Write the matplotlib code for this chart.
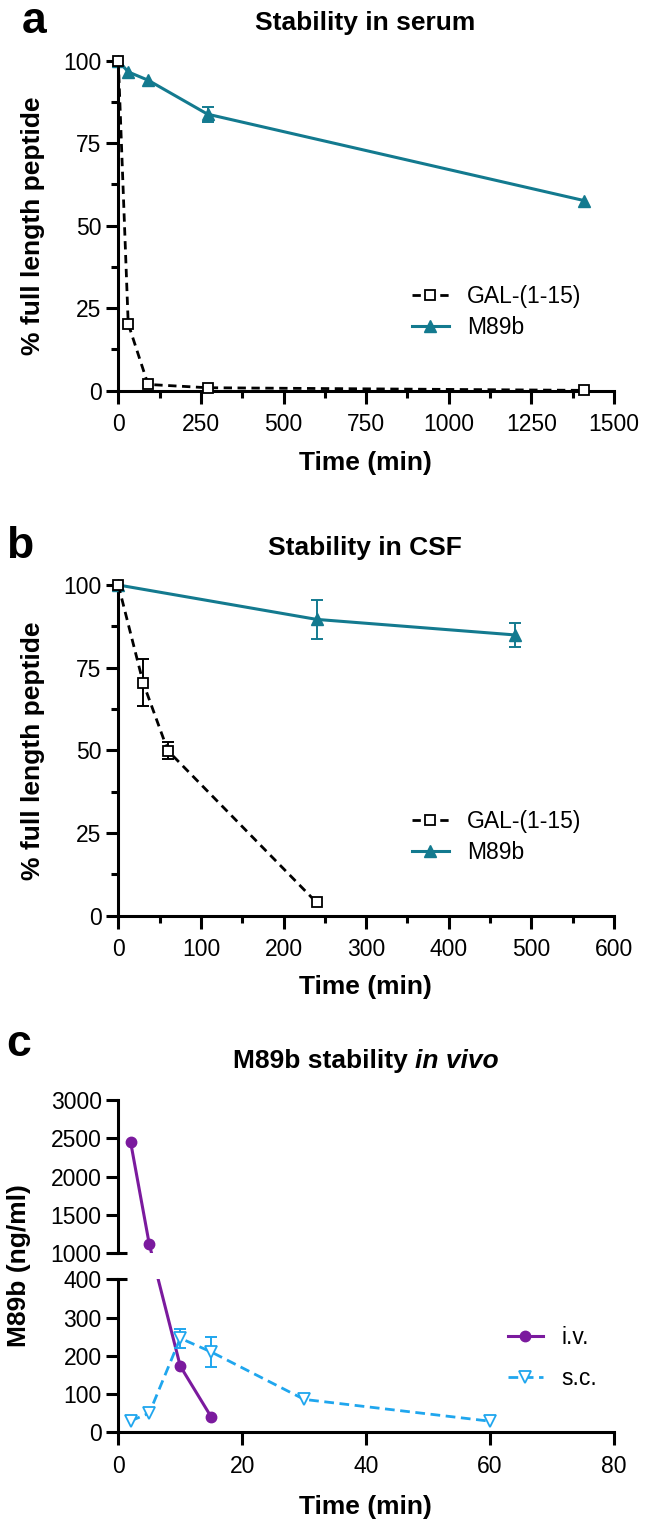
import matplotlib
matplotlib.use("Agg")
import matplotlib.pyplot as plt
from matplotlib.ticker import MultipleLocator

plt.rcParams['font.family'] = ['Liberation Sans', 'DejaVu Sans']

#figure size in pixels
W = 645
H = 1525

#panel a, stability in serum
serum_t_gal = [0, 30, 90, 270, 1410]
serum_gal = [100, 20.3, 1.9, 0.9, 0.1]
serum_t_m89 = [0, 30, 90, 270, 1410]
serum_m89 = [100, 96.6, 94.1, 83.8, 57.6]
serum_m89_err = [0, 0, 0, 2.3, 0]

#panel b, stability in CSF
csf_t_gal = [0, 30, 60, 240]
csf_gal = [100, 70.5, 49.9, 4.0]
csf_gal_err = [0, 7.0, 2.5, 0]
csf_t_m89 = [0, 240, 480]
csf_m89 = [100, 89.6, 84.9]
csf_m89_err = [0, 5.8, 3.7]

#panel c, M89b in vivo
iv_t = [2, 5, 10, 15]
iv = [2445, 1115, 173, 40]
sc_t = [2, 5, 10, 15, 30, 60]
sc = [30, 50, 246, 210, 86, 29]
sc_err = [0, 0, 25, 40, 0, 0]

teal = '#137a8f'
purple = '#7b1a9e'
skyblue = '#1fa6ee'
LW = 2.2


def box(left, top, right, bottom):
    #pixel box -> figure fraction
    return [left / W, 1 - bottom / H, (right - left) / W, (bottom - top) / H]


def style(ax):
    for s in ['top', 'right']:
        ax.spines[s].set_visible(False)
    for s in ['left', 'bottom']:
        ax.spines[s].set_linewidth(LW)
    ax.tick_params(which='major', length=9, width=LW, labelsize=16.5, pad=3)
    ax.tick_params(which='minor', length=5, width=LW)
    ax.tick_params(axis='x', which='major', pad=7)


def errs(t, y, e):
    #keep only points that have an error bar
    keep = [i for i in range(len(e)) if e[i] > 0]
    return [t[i] for i in keep], [y[i] for i in keep], [e[i] for i in keep]


def legend(ax, x, y, spacing, hl=1.6, handles=None, labels=None):
    if handles is None:
        handles, labels = ax.get_legend_handles_labels()
    ax.legend(handles, labels, loc='center left', bbox_to_anchor=(x / W, 1 - y / H),
              bbox_transform=fig.transFigure, frameon=False, fontsize=16.5, borderpad=0,
              borderaxespad=0, handlelength=hl, handletextpad=0.8, labelspacing=spacing)


fig = plt.figure(figsize=(W / 100, H / 100), dpi=100)

gal_style = dict(color='black', lw=2, dashes=(3, 2), marker='s', ms=7.5,
                 mfc='white', mec='black', mew=1.3, clip_on=False, zorder=4)
m89_style = dict(color=teal, lw=LW, marker='^', ms=9, clip_on=False, zorder=3)
bold = dict(fontsize=19, fontweight='bold')

# ---- panel a ----
ax = fig.add_axes(box(118.3, 60.7, 614, 390.7))
style(ax)
ex, ey, ee = errs(serum_t_m89, serum_m89, serum_m89_err)
ax.errorbar(ex, ey, yerr=ee, fmt='none', ecolor=teal, elinewidth=1.4, capsize=4, capthick=1.4, zorder=2)
ax.plot(serum_t_m89, serum_m89, label='M89b', **m89_style)
ax.plot(serum_t_gal, serum_gal, label='GAL-(1-15)', **gal_style)
ax.set_xlim(0, 1500)
ax.set_ylim(0, 100)
ax.xaxis.set_major_locator(MultipleLocator(250))
ax.xaxis.set_minor_locator(MultipleLocator(125))
ax.yaxis.set_major_locator(MultipleLocator(25))
ax.yaxis.set_minor_locator(MultipleLocator(12.5))
h, l = ax.get_legend_handles_labels()
legend(ax, 412, 312, 0.35, handles=h[::-1], labels=l[::-1])
fig.text(365 / W, 1 - 30 / H, 'Stability in serum', ha='center', va='baseline', **bold)
fig.text(365 / W, 1 - 470 / H, 'Time (min)', ha='center', va='baseline', **bold)
fig.text(33 / W, 1 - 225.7 / H, '% full length peptide', ha='center', va='center', rotation=90, **bold)
fig.text(22 / W, 1 - 33 / H, 'a', ha='left', va='baseline', fontsize=32, fontweight='bold')

# ---- panel b ----
ax = fig.add_axes(box(118.3, 585, 614, 915.7))
style(ax)
ex, ey, ee = errs(csf_t_m89, csf_m89, csf_m89_err)
ax.errorbar(ex, ey, yerr=ee, fmt='none', ecolor=teal, elinewidth=1.4, capsize=4, capthick=1.4, zorder=2)
ex, ey, ee = errs(csf_t_gal, csf_gal, csf_gal_err)
ax.errorbar(ex, ey, yerr=ee, fmt='none', ecolor='black', elinewidth=1.4, capsize=4, capthick=1.4, zorder=2)
ax.plot(csf_t_m89, csf_m89, label='M89b', **m89_style)
ax.plot(csf_t_gal, csf_gal, label='GAL-(1-15)', **gal_style)
ax.set_xlim(0, 600)
ax.set_ylim(0, 100)
ax.xaxis.set_major_locator(MultipleLocator(100))
ax.xaxis.set_minor_locator(MultipleLocator(50))
ax.yaxis.set_major_locator(MultipleLocator(25))
ax.yaxis.set_minor_locator(MultipleLocator(12.5))
h, l = ax.get_legend_handles_labels()
legend(ax, 412, 837, 0.35, handles=h[::-1], labels=l[::-1])
fig.text(365 / W, 1 - 555 / H, 'Stability in CSF', ha='center', va='baseline', **bold)
fig.text(365 / W, 1 - 994.5 / H, 'Time (min)', ha='center', va='baseline', **bold)
fig.text(33 / W, 1 - 750.3 / H, '% full length peptide', ha='center', va='center', rotation=90, **bold)
fig.text(6 / W, 1 - 558 / H, 'b', ha='left', va='baseline', fontsize=32, fontweight='bold')

# ---- panel c, broken y axis ----
top = fig.add_axes(box(118.3, 1100, 614, 1253))
bot = fig.add_axes(box(118.3, 1279.3, 614, 1432.3))
for a in (top, bot):
    style(a)
    a.set_xlim(0, 80)
top.set_ylim(1000, 3000)
bot.set_ylim(0, 400)

#i.v. points go in whichever segment holds them
iv_hi = [(t, v) for t, v in zip(iv_t, iv) if v >= 1000]
iv_lo = [(t, v) for t, v in zip(iv_t, iv) if v <= 400]
iv_kw = dict(color=purple, lw=LW, marker='o', ms=7.5, zorder=3)
top.plot([p[0] for p in iv_hi], [p[1] for p in iv_hi], **iv_kw)
bot.plot([p[0] for p in iv_lo], [p[1] for p in iv_lo], label='i.v.', **iv_kw)
#a segment across the break is straight on screen, cut by the gap
for i in range(len(iv) - 1):
    if iv[i] >= 1000 and iv[i + 1] <= 400:
        p1 = top.transData.transform((iv_t[i], iv[i]))
        p2 = bot.transData.transform((iv_t[i + 1], iv[i + 1]))
        for a in (top, bot):
            q = a.transData.inverted().transform([p1, p2])
            a.plot(q[:, 0], q[:, 1], color=purple, lw=LW, zorder=2)
#keep limits after the extra lines
top.set_ylim(1000, 3000)
bot.set_ylim(0, 400)
top.set_xlim(0, 80)
bot.set_xlim(0, 80)

ex, ey, ee = errs(sc_t, sc, sc_err)
bot.errorbar(ex, ey, yerr=ee, fmt='none', ecolor=skyblue, elinewidth=1.4, capsize=4, capthick=1.4, zorder=2)
bot.plot(sc_t, sc, color=skyblue, lw=2, dashes=(3.5, 2), marker='v', ms=8.5, mfc='white',
         mec=skyblue, mew=1.3, zorder=4, label='s.c.')

top.spines['bottom'].set_visible(False)
top.set_xticks([])
top.yaxis.set_major_locator(MultipleLocator(500))
bot.yaxis.set_major_locator(MultipleLocator(100))
bot.xaxis.set_major_locator(MultipleLocator(20))

#break marks at 1000 and 400
top.yaxis.get_major_ticks()[0].tick1line.set_visible(False)
bot.yaxis.get_major_ticks()[-1].tick1line.set_visible(False)
top.plot([-0.016, 0.018], [1000, 1000], transform=top.get_yaxis_transform(), color='black',
         lw=LW, clip_on=False, solid_capstyle='butt')
bot.plot([-0.016, 0.018], [400, 400], transform=bot.get_yaxis_transform(), color='black',
         lw=LW, clip_on=False, solid_capstyle='butt')

legend(bot, 507.7, 1358.3, 0.8, hl=1.55)

r = fig.canvas.get_renderer()
t1 = fig.text(0, 1 - 1068.4 / H, 'M89b stability', ha='left', va='baseline', **bold)
t2 = fig.text(0, 1 - 1068.4 / H, 'in vivo', ha='left', va='baseline', style='italic', **bold)
w1 = t1.get_window_extent(r).width
w2 = t2.get_window_extent(r).width
gap = 0.278 * 19 * 100 / 72
x0 = 365.5 - (w1 + gap + w2) / 2
t1.set_x(x0 / W)
t2.set_x((x0 + w1 + gap) / W)

fig.text(365 / W, 1 - 1514 / H, 'Time (min)', ha='center', va='baseline', **bold)
fig.text(19.5 / W, 1 - 1266 / H, 'M89b (ng/ml)', ha='center', va='center', rotation=90, **bold)
fig.text(6 / W, 1 - 1056 / H, 'c', ha='left', va='baseline', fontsize=32, fontweight='bold')

fig.savefig('out.png', dpi=100)
